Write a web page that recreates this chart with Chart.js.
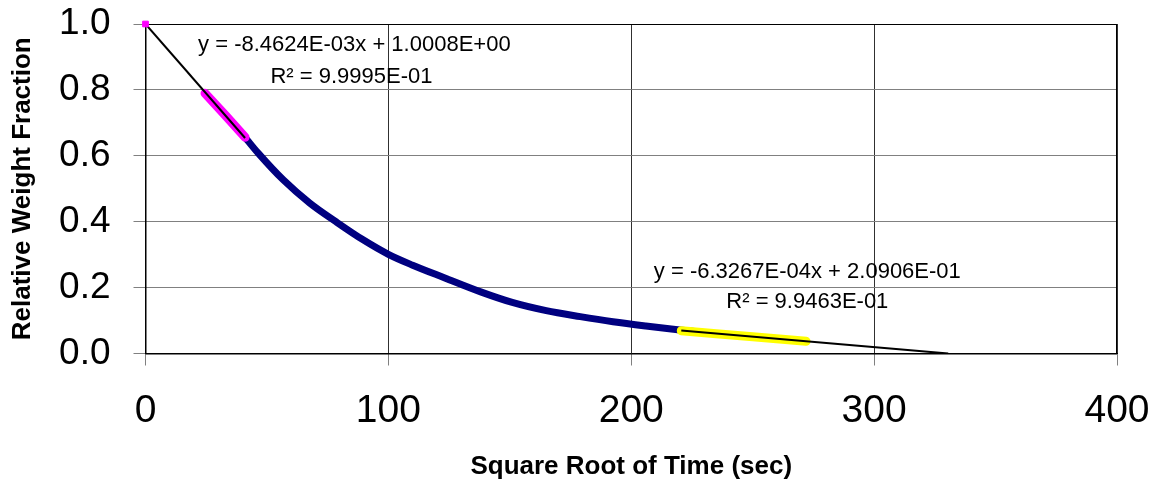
<!DOCTYPE html>
<html>
<head>
<meta charset="utf-8">
<script src="https://cdn.jsdelivr.net/npm/chart.js@4"></script>
<style>
  body { margin: 0; background: #fff; }
</style>
</head>
<body>
<canvas id="chart" width="1156" height="484"></canvas>
<script>
// measured curve (sqrt time vs relative weight fraction)
const curveX = [24.5, 33, 40.5, 46.4, 56.7, 67.7, 78.4, 89.6, 100, 110, 123, 138, 151, 165, 179, 192.5, 206, 220, 235, 250, 272];
const curveY = [0.790, 0.722, 0.660, 0.608, 0.527, 0.456, 0.400, 0.345, 0.301, 0.268, 0.230, 0.187, 0.155, 0.130, 0.112, 0.0965, 0.0835, 0.0713, 0.060, 0.051, 0.037];

// early fit region (magenta) and late fit region (yellow)
const earlyX = [24.5, 33, 41];
const earlyY = [0.790, 0.722, 0.656];
const lateX = [220.6, 235, 250, 272];
const lateY = [0.069, 0.060, 0.051, 0.037];

// start point
const startX = [0];
const startY = [1.0];

// trend lines, end points
const trend1X = [0, 41];
const trend1Y = [1.0, 0.654];
const trend2X = [220.6, 330.5];
const trend2Y = [0.0695, 0];

const eq1 = ['y = -8.4624E-03x + 1.0008E+00', 'R² = 9.9995E-01'];
const eq2 = ['y = -6.3267E-04x + 2.0906E-01', 'R² = 9.9463E-01'];

const xTicks = [0, 100, 200, 300, 400];
const yTicks = [0, 0.2, 0.4, 0.6, 0.8, 1.0];

const FONT = '"Liberation Sans", Arial, sans-serif';
Chart.defaults.font.family = FONT;
Chart.defaults.color = '#000';

function pts(xs, ys) {
    return xs.map((x, i) => ({ x: x, y: ys[i] }));
}

const frame = {
    id: 'frame',
    beforeDatasetsDraw(chart) {
        const a = chart.chartArea;
        const ctx = chart.ctx;
        ctx.save();
        ctx.strokeStyle = '#000';
        ctx.lineWidth = 1;
        ctx.strokeRect(a.left + 0.5, a.top + 0.5, a.right - a.left - 1, a.bottom - a.top);
        ctx.restore();
    }
};

const labels = {
    id: 'labels',
    afterDatasetsDraw(chart) {
        const ctx = chart.ctx;
        const xs = chart.scales.x, ys = chart.scales.y;
        ctx.save();
        ctx.font = '22px ' + FONT;
        ctx.fillStyle = '#000';
        ctx.textAlign = 'center';
        ctx.textBaseline = 'middle';
        ctx.fillText(eq1[0], xs.getPixelForValue(86), ys.getPixelForValue(0.936));
        ctx.fillText(eq1[1], xs.getPixelForValue(84.8), ys.getPixelForValue(0.838));
        ctx.fillText(eq2[0], xs.getPixelForValue(272.5), ys.getPixelForValue(0.248));
        ctx.fillText(eq2[1], xs.getPixelForValue(272.5), ys.getPixelForValue(0.157));
        ctx.restore();
    }
};

const config = {
    type: 'scatter',
    data: {
        datasets: [
            {
                label: 'trend early',
                data: pts(trend1X, trend1Y),
                showLine: true,
                borderColor: '#000',
                borderWidth: 2,
                pointRadius: 0,
                order: 1
            },
            {
                label: 'trend late',
                data: pts(trend2X, trend2Y),
                showLine: true,
                borderColor: '#000',
                borderWidth: 2,
                pointRadius: 0,
                order: 1
            },
            {
                label: 'start',
                data: pts(startX, startY),
                pointStyle: 'rect',
                pointRadius: 4,
                backgroundColor: '#FF00FF',
                borderColor: '#FF00FF',
                clip: false,
                order: 0
            },
            {
                label: 'early',
                data: pts(earlyX, earlyY),
                showLine: true,
                borderColor: '#FF00FF',
                borderWidth: 9,
                borderCapStyle: 'round',
                pointRadius: 0,
                order: 2
            },
            {
                label: 'late',
                data: pts(lateX, lateY),
                showLine: true,
                borderColor: '#FFFF00',
                borderWidth: 9,
                borderCapStyle: 'round',
                pointRadius: 0,
                order: 2
            },
            {
                label: 'data',
                data: pts(curveX, curveY),
                showLine: true,
                borderColor: '#000080',
                borderWidth: 7,
                cubicInterpolationMode: 'monotone',
                pointRadius: 0,
                order: 3
            }
        ]
    },
    options: {
        responsive: false,
        animation: false,
        layout: {
            padding: { top: 24, right: 39, left: 0, bottom: 0 }
        },
        plugins: {
            legend: { display: false },
            tooltip: { enabled: false }
        },
        scales: {
            x: {
                type: 'linear',
                min: 0,
                max: 400,
                afterBuildTicks: s => { s.ticks = xTicks.map(v => ({ value: v })); },
                afterFit: s => {
                    s.height = 130.5;
                    s.paddingLeft = 0;
                    s.paddingRight = 0;
                },
                grid: {
                    color: '#303030',
                    tickColor: '#808080',
                    tickLength: 12
                },
                border: { color: '#000', width: 1 },
                ticks: {
                    font: { size: 39 },
                    padding: 22,
                    maxRotation: 0
                },
                title: {
                    display: true,
                    text: 'Square Root of Time (sec)',
                    font: { size: 26, weight: 'bold' },
                    padding: { bottom: 2 }
                }
            },
            y: {
                type: 'linear',
                min: 0,
                max: 1,
                afterBuildTicks: s => { s.ticks = yTicks.map(v => ({ value: v })); },
                afterFit: s => {
                    s.width = 145.5;
                    s.paddingTop = 0;
                    s.paddingBottom = 0;
                },
                grid: {
                    color: '#808080',
                    tickColor: '#808080',
                    tickLength: 12
                },
                border: { color: '#000', width: 1 },
                ticks: {
                    font: { size: 37 },
                    padding: 23,
                    callback: v => v.toFixed(1)
                },
                title: {
                    display: true,
                    text: 'Relative Weight Fraction',
                    font: { size: 26, weight: 'bold' },
                    padding: { top: 7 }
                }
            }
        }
    },
    plugins: [frame, labels]
};

new Chart(document.getElementById('chart'), config);
</script>
</body>
</html>
